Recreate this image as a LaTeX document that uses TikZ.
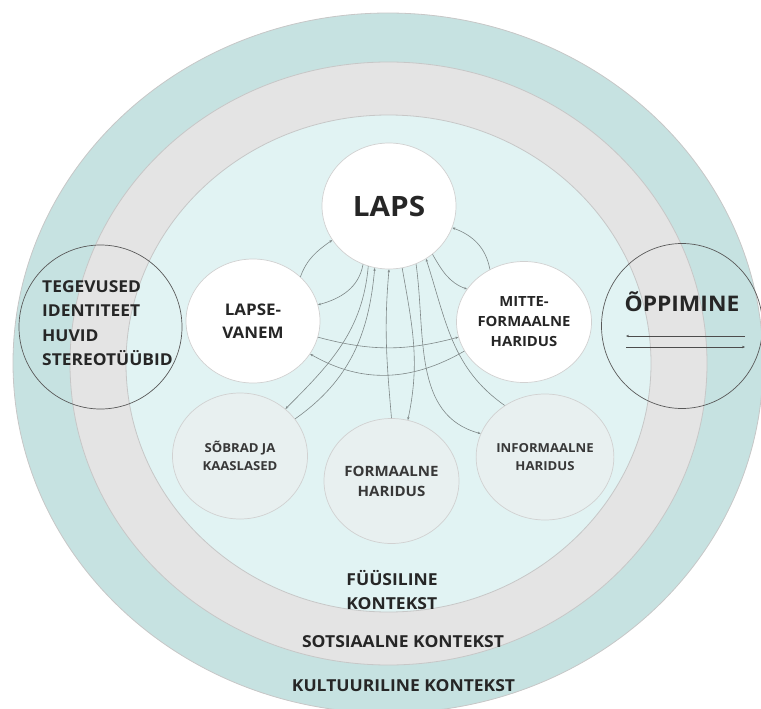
\documentclass[tikz,border=0pt]{standalone}
\usepackage{fontspec}
\setmainfont{Open Sans}[FakeStretch=1.06]
\usetikzlibrary{shapes.geometric,arrows.meta}

\definecolor{kultuur}{HTML}{C6E2E1}
\definecolor{sotsiaal}{HTML}{E4E4E4}
\definecolor{fyysil}{HTML}{E1F3F3}
\definecolor{alumine}{HTML}{E8F0F0}
\definecolor{tekst}{HTML}{262626}
\definecolor{joon}{HTML}{7F8888}

\tikzset{
	ring/.style={draw=black!22, line width=0.8pt},
	ball/.style={ellipse, draw=black!18, line width=0.7pt, fill=white,
		minimum width=134pt, minimum height=124pt, inner sep=0pt,
		align=center, text=tekst, font=\bfseries},
	lowball/.style={ball, fill=alumine, text=black!78},
	sidering/.style={ellipse, draw=black!65, line width=0.7pt,
		minimum width=162pt, minimum height=164pt, inner sep=0pt},
	link/.style={draw=joon, line width=0.6pt},
	tip/.style={-{Stealth[length=3pt,width=2.4pt]}},
	ctxlabel/.style={text=tekst, font=\fontsize{16.5}{24}\selectfont\bfseries, inner sep=0pt},
}

\begin{document}
\begin{tikzpicture}[x=1pt, y=-1pt]
	\useasboundingbox (0,0) rectangle (761,709);
	\clip (0,0) rectangle (761,709);

	% kontekstid
	\draw[ring, fill=kultuur] (388,363) ellipse [x radius=375, y radius=350];
	\draw[ring, fill=sotsiaal] (388.5,363.5) ellipse [x radius=318.5, y radius=301.5];
	\draw[ring, fill=fyysil] (388.5,363.5) ellipse [x radius=262.5, y radius=248.5];

	% külgmised ringid
	\node[sidering, minimum width=163pt] (tegevused) at (100.5,327) {};
	\node[anchor=west, align=left, inner sep=0pt, text=tekst,
		font=\fontsize{16.4}{24.4}\selectfont\bfseries]
		(tegtext) at (42,323) {TEGEVUSED\\IDENTITEET\\HUVID\\STEREOTÜÜBID};
	\node[sidering, minimum width=161pt, minimum height=165pt] (oppimine) at (682,326) {};
	\node[text=tekst, font=\fontsize{21.5}{24}\selectfont\bfseries, inner sep=0pt]
		(opptext) at (682,302) {ÕPPIMINE};
	\coordinate (opp-a) at (745,336);
	\coordinate (opp-b) at (626,336);
	\coordinate (opp-c) at (626,347);
	\coordinate (opp-d) at (745,347);
	\draw[link, draw=black!70, tip] (opp-a) -- (opp-b);
	\draw[link, draw=black!70, tip] (opp-c) -- (opp-d);

	% keskmised ringid
	\node[ball, minimum height=126pt, font=\fontsize{28}{30}\selectfont\bfseries] (laps) at (389,206) {LAPS};
	\node[ball, font=\fontsize{16}{23}\selectfont\bfseries] (vanem) at (253,321) {LAPSE-\\VANEM};
	\node[ball, minimum width=135pt, minimum height=121pt, font=\fontsize{14}{20}\selectfont\bfseries]
		(mitte) at (524,322) {MITTE-\\FORMAALNE\\HARIDUS};
	\node[lowball, minimum width=135pt, minimum height=126pt, font=\fontsize{12.4}{18}\selectfont\bfseries]
		(sobrad) at (240,456) {SÕBRAD JA\\KAASLASED};
	\node[lowball, minimum width=135pt, minimum height=125pt, font=\fontsize{14.2}{20}\selectfont\bfseries]
		(formaalne) at (391.5,481) {FORMAALNE\\HARIDUS};
	\node[lowball, minimum width=135pt, minimum height=126pt, font=\fontsize{12.4}{18}\selectfont\bfseries]
		(informaalne) at (545,457) {INFORMAALNE\\HARIDUS};

	% seosed
	\draw[link, tip] (vanem.43) to[out=70, in=215] (laps.211);
	\draw[link, tip] (laps.246) to[out=-100, in=15] (vanem.14);
	\draw[link, tip] (laps.251) to[out=-95, in=45] (sobrad.46);
	\draw[link, tip] (sobrad.34) to[out=35, in=-95] (laps.257);
	\draw[link, tip] (formaalne.90) to[out=95, in=-95] (laps.270);
	\draw[link, tip] (laps.282) to[out=-80, in=78] (formaalne.75);
	\draw[link, tip] (laps.295) to[out=-82, in=165] (informaalne.160);
	\draw[link, tip] (informaalne.128) to[out=145, in=-72] (laps.305);
	\draw[link, tip] (laps.312) to[out=-60, in=160] (mitte.150);
	\draw[link, tip] (mitte.123) to[out=100, in=-20] (laps.341);
	\draw[link, tip] (vanem.346) to[out=-15, in=195] (mitte.193);
	\draw[link, tip] (mitte.206) to[out=210, in=-30] (vanem.330);

	% kontekstide nimed
	\node[ctxlabel, align=left] (fyysiline) at (392,590) {FÜÜSILINE\\KONTEKST};
	\node[ctxlabel, anchor=base] (sotsiaalne) at (403,647) {SOTSIAALNE KONTEKST};
	\node[ctxlabel, anchor=base] (kultuuriline) at (403.5,691) {KULTUURILINE KONTEKST};
\end{tikzpicture}
\end{document}
